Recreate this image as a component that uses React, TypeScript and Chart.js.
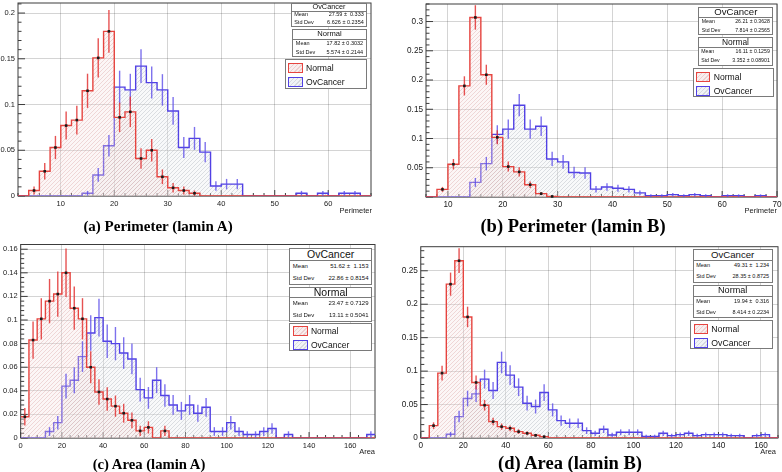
import React, { useEffect, useRef } from 'react';
import { Chart, registerables } from 'chart.js';

Chart.register(...registerables);

const SANS = '"Liberation Sans", Arial, Helvetica, sans-serif';
const SERIF = '"Liberation Serif", "Times New Roman", serif';
const RED = '#e6443f';
const BLUE = '#5141e4';
const RED_ERR = 'rgba(226,52,52,0.85)';
const BLUE_ERR = 'rgba(92,78,232,0.8)';

const SERIES_NAMES = ['Normal', 'OvCancer'];
const STAT_LABELS = ['Mean', 'Std Dev'];

// ---------- (a) Perimeter (lamin A) ----------
const A_BIN_START = 2;
const A_BIN_WIDTH = 2;
const A_X_RANGE = [2, 68];
const A_Y_MAX = 0.211;
const A_X_STEP = 10;
const A_Y_STEP = 0.05;
const A_NORMAL = [0, 0.006, 0.027, 0.053, 0.077, 0.083, 0.115, 0.151, 0.18, 0.086, 0.092, 0.041, 0.05, 0.021, 0.009, 0.006, 0.003, 0, 0, 0, 0, 0, 0, 0, 0, 0, 0, 0, 0, 0, 0, 0, 0];
const A_NORMAL_ERR = [0, 0.0043, 0.009, 0.0127, 0.0153, 0.0158, 0.0187, 0.0214, 0.0233, 0.0161, 0.0167, 0.0111, 0.0123, 0.008, 0.0052, 0.0043, 0.003, 0, 0, 0, 0, 0, 0, 0, 0, 0, 0, 0, 0, 0, 0, 0, 0];
const A_OVCANCER = [0, 0, 0, 0, 0, 0, 0.003, 0.023, 0.055, 0.119, 0.116, 0.142, 0.124, 0.116, 0.093, 0.053, 0.063, 0.048, 0.011, 0.013, 0.013, 0, 0, 0, 0, 0, 0.003, 0, 0.003, 0, 0.003, 0.003, 0];
const A_OVCANCER_ERR = [0, 0, 0, 0, 0, 0, 0.0026, 0.0075, 0.0118, 0.018, 0.0176, 0.0185, 0.0175, 0.0172, 0.0152, 0.0115, 0.0125, 0.011, 0.0052, 0.0057, 0.0057, 0, 0, 0, 0, 0, 0.0026, 0, 0.0026, 0, 0.0026, 0.0026, 0];
const A_STATS_OV = ['27.59 \u00b1  0.333', '6.626 \u00b1 0.2354'];
const A_STATS_NORMAL = ['17.82 \u00b1 0.3032', '5.574 \u00b1 0.2144'];

// ---------- (b) Perimeter (lamin B) ----------
const B_BIN_START = 6;
const B_BIN_WIDTH = 2;
const B_X_RANGE = [6, 70];
const B_Y_MAX = 0.33;
const B_X_STEP = 10;
const B_Y_STEP = 0.05;
const B_NORMAL = [0, 0.013, 0.056, 0.19, 0.307, 0.209, 0.102, 0.052, 0.043, 0.021, 0.0057, 0.001, 0, 0, 0, 0, 0, 0, 0, 0, 0, 0, 0, 0, 0, 0, 0, 0, 0, 0, 0, 0];
const B_NORMAL_ERR = [0, 0.0043, 0.0089, 0.0164, 0.0209, 0.0172, 0.012, 0.0086, 0.0078, 0.0055, 0.0028, 0.0012, 0, 0, 0, 0, 0, 0, 0, 0, 0, 0, 0, 0, 0, 0, 0, 0, 0, 0, 0, 0];
const B_OVCANCER = [0, 0, 0, 0, 0.025, 0.057, 0.107, 0.116, 0.157, 0.116, 0.121, 0.065, 0.06, 0.042, 0.041, 0.0134, 0.017, 0.015, 0.013, 0.007, 0.0023, 0.0023, 0.004, 0.0023, 0.004, 0.0023, 0, 0.0023, 0.0023, 0, 0.0023, 0];
const B_OVCANCER_ERR = [0, 0, 0, 0, 0.0076, 0.0115, 0.0157, 0.0164, 0.019, 0.0164, 0.0167, 0.0122, 0.0118, 0.0098, 0.0097, 0.0056, 0.0063, 0.0059, 0.0055, 0.004, 0.0023, 0.0023, 0.003, 0.0023, 0.003, 0.0023, 0, 0.0023, 0.0023, 0, 0.0023, 0];
const B_STATS_OV = ['26.21 \u00b1 0.3628', '7.814 \u00b1 0.2565'];
const B_STATS_NORMAL = ['16.11 \u00b1 0.1259', '3.352 \u00b1 0.08901'];

// ---------- (c) Area (lamin A) ----------
const C_BIN_START = 0;
const C_BIN_WIDTH = 4;
const C_X_RANGE = [0, 172];
const C_Y_MAX = 0.164;
const C_X_STEP = 20;
const C_Y_STEP = 0.02;
const C_NORMAL = [0.018, 0.083, 0.101, 0.116, 0.122, 0.14, 0.11, 0.101, 0.06, 0.039, 0.033, 0.027, 0.021, 0.015, 0.006, 0.009, 0, 0.006, 0, 0, 0, 0, 0, 0, 0, 0, 0, 0, 0, 0, 0, 0, 0, 0, 0, 0, 0, 0, 0, 0, 0, 0, 0];
const C_NORMAL_ERR = [0.0074, 0.0158, 0.0175, 0.0188, 0.0192, 0.0206, 0.0183, 0.0175, 0.0135, 0.0108, 0.01, 0.009, 0.008, 0.0067, 0.0043, 0.0052, 0, 0.0043, 0, 0, 0, 0, 0, 0, 0, 0, 0, 0, 0, 0, 0, 0, 0, 0, 0, 0, 0, 0, 0, 0, 0, 0, 0];
const C_OVCANCER = [0, 0, 0, 0.0055, 0.013, 0.044, 0.049, 0.069, 0.089, 0.102, 0.082, 0.08, 0.072, 0.067, 0.041, 0.034, 0.049, 0.036, 0.028, 0.023, 0.028, 0.021, 0.026, 0.0055, 0.0055, 0.013, 0.0055, 0.003, 0.003, 0.0055, 0.008, 0, 0.003, 0, 0, 0, 0, 0, 0, 0, 0, 0, 0.003];
const C_OVCANCER_ERR = [0, 0, 0, 0.0037, 0.0057, 0.0105, 0.011, 0.013, 0.015, 0.016, 0.0143, 0.0141, 0.0134, 0.013, 0.01, 0.0092, 0.011, 0.0095, 0.0084, 0.0076, 0.0084, 0.0072, 0.008, 0.0037, 0.0037, 0.0057, 0.0037, 0.0027, 0.0027, 0.0037, 0.0045, 0, 0.0027, 0, 0, 0, 0, 0, 0, 0, 0, 0, 0.0027];
const C_STATS_OV = ['51.62 \u00b1  1.153', '22.86 \u00b1 0.8154'];
const C_STATS_NORMAL = ['23.47 \u00b1 0.7129', '13.11 \u00b1 0.5041'];

// ---------- (d) Area (lamin B) ----------
const D_BIN_START = 0;
const D_BIN_WIDTH = 4;
const D_X_RANGE = [0, 168];
const D_Y_MAX = 0.286;
const D_X_STEP = 20;
const D_Y_STEP = 0.05;
const D_NORMAL = [0, 0.0185, 0.097, 0.23, 0.265, 0.181, 0.083, 0.049, 0.0245, 0.017, 0.0145, 0.0095, 0.007, 0.004, 0.002, 0, 0, 0, 0, 0, 0, 0, 0, 0, 0, 0, 0, 0, 0, 0, 0, 0, 0, 0, 0, 0, 0, 0, 0, 0, 0, 0];
const D_NORMAL_ERR = [0, 0.0049, 0.0112, 0.0173, 0.0185, 0.0153, 0.0104, 0.008, 0.0056, 0.0047, 0.0043, 0.0035, 0.003, 0.0023, 0.0016, 0, 0, 0, 0, 0, 0, 0, 0, 0, 0, 0, 0, 0, 0, 0, 0, 0, 0, 0, 0, 0, 0, 0, 0, 0, 0, 0];
const D_OVCANCER = [0, 0, 0, 0.0055, 0.032, 0.059, 0.066, 0.088, 0.071, 0.113, 0.094, 0.076, 0.052, 0.047, 0.068, 0.042, 0.026, 0.022, 0.022, 0.011, 0.007, 0.013, 0.0045, 0.0085, 0.0085, 0.0085, 0.0025, 0.0025, 0.007, 0.0035, 0.005, 0.007, 0.0035, 0.005, 0.005, 0.005, 0.0035, 0.0035, 0, 0.0035, 0.005, 0];
const D_OVCANCER_ERR = [0, 0, 0, 0.0036, 0.0086, 0.0117, 0.0123, 0.0142, 0.0128, 0.0161, 0.0147, 0.0132, 0.011, 0.0104, 0.0125, 0.0098, 0.0077, 0.0071, 0.0071, 0.005, 0.004, 0.0055, 0.0032, 0.0044, 0.0044, 0.0044, 0.0024, 0.0024, 0.004, 0.0028, 0.0034, 0.004, 0.0028, 0.0034, 0.0034, 0.0034, 0.0028, 0.0028, 0, 0.0028, 0.0034, 0];
const D_STATS_OV = ['49.31 \u00b1  1.234', '28.35 \u00b1 0.8725'];
const D_STATS_NORMAL = ['19.94 \u00b1  0.316', '8.414 \u00b1 0.2234'];

type Hist = { start: number; width: number; values: number[]; errors: number[] };
type Box = { x: number; y: number; w: number; h: number; hh: number; hf: number; rf: number };
type LegendSpec = { x: number; y: number; w: number; h: number; sx: number; sw: number; sh: number; c1: number; c2: number; tx: number; f: number };

type PanelSpec = {
  key: string;
  canvas: { left: number; top: number; w: number; h: number };
  area: { l: number; r: number; t: number; b: number };
  xRange: number[];
  yMax: number;
  xStep: number;
  yStep: number;
  xMinor: number;
  yMinor: number;
  hideZero: boolean;
  tickFont: number;
  normal: Hist;
  ov: Hist;
  xTitle: string;
  xTitleRight: number;
  xTitleY: number;
  caption: string;
  capX: number;
  capY: number;
  capSize: number;
  statsOv: string[];
  statsNormal: string[];
  boxOv: Box;
  boxNormal: Box;
  legend: LegendSpec;
};

const PANELS: PanelSpec[] = [
  {
    key: 'a',
    canvas: { left: 0, top: 0, w: 391, h: 214 },
    area: { l: 18, r: 371, t: 3, b: 196 },
    xRange: A_X_RANGE, yMax: A_Y_MAX, xStep: A_X_STEP, yStep: A_Y_STEP, xMinor: 2, yMinor: 0.01,
    hideZero: false, tickFont: 7.5,
    normal: { start: A_BIN_START, width: A_BIN_WIDTH, values: A_NORMAL, errors: A_NORMAL_ERR },
    ov: { start: A_BIN_START, width: A_BIN_WIDTH, values: A_OVCANCER, errors: A_OVCANCER_ERR },
    xTitle: 'Perimeter', xTitleRight: 372, xTitleY: 211,
    caption: '(a) Perimeter (lamin A)', capX: 158, capY: 226, capSize: 15,
    statsOv: A_STATS_OV, statsNormal: A_STATS_NORMAL,
    boxOv: { x: 290.7, y: 3.3, w: 76.6, h: 23.4, hh: 7.7, hf: 7.3, rf: 5.5 },
    boxNormal: { x: 292.3, y: 29.3, w: 74.4, h: 27.4, hh: 9.7, hf: 7.6, rf: 5.5 },
    legend: { x: 285, y: 59.3, w: 81.7, h: 30, sx: 2.3, sw: 14.4, sh: 10, c1: 7.7, c2: 22.2, tx: 20, f: 8.6 },
  },
  {
    key: 'b',
    canvas: { left: 391, top: 0, w: 391, h: 214 },
    area: { l: 426, r: 777, t: 4, b: 197 },
    xRange: B_X_RANGE, yMax: B_Y_MAX, xStep: B_X_STEP, yStep: B_Y_STEP, xMinor: 2, yMinor: 0.01,
    hideZero: true, tickFont: 8.2,
    normal: { start: B_BIN_START, width: B_BIN_WIDTH, values: B_NORMAL, errors: B_NORMAL_ERR },
    ov: { start: B_BIN_START, width: B_BIN_WIDTH, values: B_OVCANCER, errors: B_OVCANCER_ERR },
    xTitle: 'Perimeter', xTitleRight: 777, xTitleY: 211,
    caption: '(b) Perimeter (lamin B)', capX: 573, capY: 226.5, capSize: 18.5,
    statsOv: B_STATS_OV, statsNormal: B_STATS_NORMAL,
    boxOv: { x: 698.3, y: 7.3, w: 75, h: 27.7, hh: 9.4, hf: 9.6, rf: 5.2 },
    boxNormal: { x: 697.7, y: 36.7, w: 75.6, h: 29, hh: 10.6, hf: 8.4, rf: 5.2 },
    legend: { x: 692.7, y: 68.3, w: 81, h: 29, sx: 2.3, sw: 14.3, sh: 10.3, c1: 7.7, c2: 21.7, tx: 20, f: 8.6 },
  },
  {
    key: 'c',
    canvas: { left: 0, top: 236, w: 391, h: 214 },
    area: { l: 20.7, r: 375, t: 244.5, b: 438 },
    xRange: C_X_RANGE, yMax: C_Y_MAX, xStep: C_X_STEP, yStep: C_Y_STEP, xMinor: 4, yMinor: 0.004,
    hideZero: false, tickFont: 7.5,
    normal: { start: C_BIN_START, width: C_BIN_WIDTH, values: C_NORMAL, errors: C_NORMAL_ERR },
    ov: { start: C_BIN_START, width: C_BIN_WIDTH, values: C_OVCANCER, errors: C_OVCANCER_ERR },
    xTitle: 'Area', xTitleRight: 375, xTitleY: 452,
    caption: '(c) Area (lamin A)', capX: 149, capY: 465, capSize: 14.7,
    statsOv: C_STATS_OV, statsNormal: C_STATS_NORMAL,
    boxOv: { x: 289.3, y: 248.3, w: 82.7, h: 36.7, hh: 11.7, hf: 10.5, rf: 6 },
    boxNormal: { x: 289.3, y: 286.7, w: 82.7, h: 35, hh: 10, hf: 10.5, rf: 6 },
    legend: { x: 289.3, y: 322.5, w: 82.7, h: 28, sx: 2.4, sw: 15, sh: 10, c1: 7.5, c2: 21.5, tx: 20.7, f: 8.5 },
  },
  {
    key: 'd',
    canvas: { left: 391, top: 236, w: 391, h: 214 },
    area: { l: 420.8, r: 778, t: 246.7, b: 438 },
    xRange: D_X_RANGE, yMax: D_Y_MAX, xStep: D_X_STEP, yStep: D_Y_STEP, xMinor: 4, yMinor: 0.01,
    hideZero: false, tickFont: 8.2,
    normal: { start: D_BIN_START, width: D_BIN_WIDTH, values: D_NORMAL, errors: D_NORMAL_ERR },
    ov: { start: D_BIN_START, width: D_BIN_WIDTH, values: D_OVCANCER, errors: D_OVCANCER_ERR },
    xTitle: 'Area', xTitleRight: 776, xTitleY: 452,
    caption: '(d) Area (lamin B)', capX: 570, capY: 463.5, capSize: 18.5,
    statsOv: D_STATS_OV, statsNormal: D_STATS_NORMAL,
    boxOv: { x: 692.7, y: 249.3, w: 80, h: 33.4, hh: 11, hf: 9.6, rf: 5.5 },
    boxNormal: { x: 692.7, y: 285.3, w: 80, h: 33, hh: 10.7, hf: 9.1, rf: 5.5 },
    legend: { x: 690.3, y: 320.3, w: 82.4, h: 29, sx: 3, sw: 13.7, sh: 10, c1: 7.4, c2: 21.7, tx: 20, f: 8.7 },
  },
];

function histPoints(h: Hist) {
  const pts = h.values.map((v, i) => ({ x: h.start + i * h.width, y: v }));
  pts.push({ x: h.start + h.values.length * h.width, y: h.values[h.values.length - 1] });
  return pts;
}

function makePattern(ctx: CanvasRenderingContext2D, line: string, bg: string) {
  const tile = document.createElement('canvas');
  tile.width = 4;
  tile.height = 4;
  const g = tile.getContext('2d')!;
  g.fillStyle = bg;
  g.fillRect(0, 0, 4, 4);
  g.fillStyle = line;
  for (let i = 0; i < 4; i++) g.fillRect(i, 3 - i, 1, 1);
  return ctx.createPattern(tile, 'repeat')!;
}

const framePlugin = {
  id: 'rootFrame',
  beforeDatasetsDraw(chart: any) {
    const { ctx, chartArea: a, scales } = chart;
    const x = scales.x;
    const y = scales.y;
    const o = chart.options.plugins.rootFrame;
    ctx.save();
    ctx.strokeStyle = '#3c3c3c';
    ctx.lineWidth = 1;
    ctx.strokeRect(a.left, a.top, a.right - a.left, a.bottom - a.top);
    ctx.beginPath();
    for (let k = 0; k * o.yMinor <= y.max + 1e-9; k++) {
      const py = y.getPixelForValue(k * o.yMinor);
      const len = k % 5 === 0 ? 7 : 3.5;
      ctx.moveTo(a.left, py);
      ctx.lineTo(a.left + len, py);
    }
    const k0 = Math.ceil(x.min / o.xMinor);
    for (let k = k0; k * o.xMinor <= x.max + 1e-9; k++) {
      const px = x.getPixelForValue(k * o.xMinor);
      const len = (k * o.xMinor) % (o.xMinor * 5) === 0 ? 6 : 3;
      ctx.moveTo(px, a.bottom);
      ctx.lineTo(px, a.bottom - len);
    }
    ctx.stroke();
    ctx.restore();
  },
};

const errorBarPlugin = {
  id: 'errBars',
  afterDatasetsDraw(chart: any) {
    const { ctx, scales } = chart;
    const x = scales.x;
    const y = scales.y;
    const list = chart.data.datasets as any[];
    [1, 0].forEach((idx) => {
      const ds = list[idx];
      const h: Hist = ds.hist;
      ctx.save();
      ctx.strokeStyle = ds.errColor;
      ctx.lineWidth = 1.4;
      h.values.forEach((v, i) => {
        if (v <= 0) return;
        const cx = x.getPixelForValue(h.start + (i + 0.5) * h.width);
        const e = h.errors[i];
        ctx.beginPath();
        ctx.moveTo(cx, y.getPixelForValue(v - e));
        ctx.lineTo(cx, y.getPixelForValue(v + e));
        ctx.stroke();
        if (ds.marker) {
          ctx.fillStyle = '#1a1a1a';
          ctx.fillRect(cx - 1.3, y.getPixelForValue(v) - 1.3, 2.6, 2.6);
        }
      });
      ctx.restore();
    });
  },
};

function fmt(v: number) {
  return String(+Number(v).toFixed(4));
}

function HistPanel({ p }: { p: PanelSpec }) {
  const ref = useRef<HTMLCanvasElement>(null);
  useEffect(() => {
    const canvas = ref.current!;
    const ctx = canvas.getContext('2d')!;
    const redPat = makePattern(ctx, 'rgba(210,140,140,0.3)', 'rgba(244,226,226,0.3)');
    const bluePat = makePattern(ctx, 'rgba(150,155,168,0.3)', 'rgba(232,235,240,0.32)');
    const c = p.canvas;
    const a = p.area;
    const yWidth = a.l - c.left;
    const xHeight = c.top + c.h - a.b;
    const gridColor = 'rgba(0,0,0,0.17)';
    const chart = new Chart(canvas, {
      type: 'line',
      data: {
        datasets: [
          {
            label: SERIES_NAMES[0],
            data: histPoints(p.normal),
            stepped: true,
            borderColor: RED,
            borderWidth: 1.4,
            backgroundColor: redPat,
            fill: 'origin',
            pointRadius: 0,
            hist: p.normal,
            errColor: RED_ERR,
            marker: true,
          } as any,
          {
            label: SERIES_NAMES[1],
            data: histPoints(p.ov),
            stepped: true,
            borderColor: BLUE,
            borderWidth: 1.4,
            backgroundColor: bluePat,
            fill: 'origin',
            pointRadius: 0,
            hist: p.ov,
            errColor: BLUE_ERR,
            marker: false,
          } as any,
        ],
      },
      options: {
        animation: false,
        responsive: false,
        maintainAspectRatio: false,
        events: [],
        layout: { padding: { left: 0, top: a.t - c.top, right: c.left + c.w - a.r, bottom: 0 } },
        plugins: {
          legend: { display: false },
          tooltip: { enabled: false },
          rootFrame: { xMinor: p.xMinor, yMinor: p.yMinor },
        } as any,
        scales: {
          x: {
            type: 'linear',
            min: p.xRange[0],
            max: p.xRange[1],
            grid: { color: gridColor, drawTicks: false, lineWidth: 1 },
            border: { display: false },
            ticks: {
              stepSize: p.xStep,
              includeBounds: false,
              padding: 3,
              color: '#1a1a1a',
              font: { family: SANS, size: p.tickFont },
              maxRotation: 0,
              autoSkip: false,
              callback: (v: any) => fmt(v),
            },
            afterFit: (s: any) => {
              s.height = xHeight;
              s.paddingLeft = 0;
              s.paddingRight = 0;
            },
          },
          y: {
            type: 'linear',
            min: 0,
            max: p.yMax,
            grid: { color: gridColor, drawTicks: false, lineWidth: 1 },
            border: { display: false },
            ticks: {
              stepSize: p.yStep,
              includeBounds: false,
              padding: 3,
              color: '#1a1a1a',
              font: { family: SANS, size: p.tickFont },
              callback: (v: any) => (p.hideZero && Number(v) === 0 ? '' : fmt(v)),
            },
            afterFit: (s: any) => {
              s.width = yWidth;
              s.paddingTop = 0;
              s.paddingBottom = 0;
            },
          },
        },
      },
      plugins: [framePlugin, errorBarPlugin],
    });
    return () => chart.destroy();
  }, [p]);

  const c = p.canvas;
  return (
    <>
      <canvas
        ref={ref}
        width={c.w}
        height={c.h}
        style={{ position: 'absolute', left: c.left, top: c.top, width: c.w, height: c.h }}
      />
      <div
        style={{
          position: 'absolute', left: 0, width: p.xTitleRight, top: p.xTitleY - 5, height: 10,
          lineHeight: '10px', textAlign: 'right', fontSize: 7.5, fontFamily: SANS, color: '#1a1a1a',
        }}
      >
        {p.xTitle}
      </div>
      <div
        style={{
          position: 'absolute', left: p.capX - 160, width: 320, top: p.capY - p.capSize * 0.6,
          height: p.capSize * 1.2, lineHeight: p.capSize * 1.2 + 'px', textAlign: 'center',
          fontFamily: SERIF, fontWeight: 'bold', fontSize: p.capSize, color: '#000', whiteSpace: 'nowrap',
        }}
      >
        {p.caption}
      </div>
      <StatBox b={p.boxOv} name={SERIES_NAMES[1]} values={p.statsOv} />
      <StatBox b={p.boxNormal} name={SERIES_NAMES[0]} values={p.statsNormal} />
      <LegendBox l={p.legend} />
    </>
  );
}

function StatBox({ b, name, values }: { b: Box; name: string; values: string[] }) {
  const rowH = (b.h - b.hh) / 2;
  return (
    <div
      style={{
        position: 'absolute', left: b.x, top: b.y, width: b.w, height: b.h, boxSizing: 'border-box',
        border: '1px solid #7a7a7a', background: '#fff', fontFamily: SANS, color: '#111',
      }}
    >
      <div
        style={{
          position: 'absolute', left: 0, right: 0, top: 0, height: b.hh - 1, lineHeight: b.hh - 1 + 'px',
          textAlign: 'center', fontSize: b.hf, borderBottom: '1px solid #7a7a7a',
        }}
      >
        {name}
      </div>
      {values.map((v, i) => (
        <div
          key={i}
          style={{
            position: 'absolute', left: 2.5, right: 2.5, top: b.hh - 1 + rowH * i, height: rowH,
            lineHeight: rowH + 'px', fontSize: b.rf, display: 'flex', justifyContent: 'space-between',
            whiteSpace: 'pre',
          }}
        >
          <span>{STAT_LABELS[i]}</span>
          <span>{v}</span>
        </div>
      ))}
    </div>
  );
}

const SWATCH_RED = 'repeating-linear-gradient(135deg, rgba(214,150,150,0.45) 0px, rgba(214,150,150,0.45) 1px, #f8eeee 1px, #f8eeee 3px)';
const SWATCH_BLUE = 'repeating-linear-gradient(135deg, rgba(155,160,175,0.4) 0px, rgba(155,160,175,0.4) 1px, #f1f3f6 1px, #f1f3f6 3px)';

function LegendBox({ l }: { l: LegendSpec }) {
  const entries = [
    { label: SERIES_NAMES[0], color: RED, bg: SWATCH_RED, cy: l.c1 },
    { label: SERIES_NAMES[1], color: BLUE, bg: SWATCH_BLUE, cy: l.c2 },
  ];
  return (
    <div
      style={{
        position: 'absolute', left: l.x, top: l.y, width: l.w, height: l.h, boxSizing: 'border-box',
        border: '1px solid #7a7a7a', background: '#fff', fontFamily: SANS, color: '#111',
      }}
    >
      {entries.map((e) => (
        <React.Fragment key={e.label}>
          <div
            style={{
              position: 'absolute', left: l.sx, top: e.cy - l.sh / 2, width: l.sw, height: l.sh,
              boxSizing: 'border-box', border: `1.3px solid ${e.color}`, background: e.bg,
            }}
          />
          <div
            style={{
              position: 'absolute', left: l.tx, top: e.cy - 6, height: 12, lineHeight: '12px',
              fontSize: l.f, whiteSpace: 'nowrap',
            }}
          >
            {e.label}
          </div>
        </React.Fragment>
      ))}
    </div>
  );
}

export default function App() {
  useEffect(() => {
    document.body.style.margin = '0';
    document.body.style.background = '#fff';
  }, []);
  return (
    <div
      style={{
        position: 'absolute', left: 0, top: 0, width: 782, height: 472, overflow: 'hidden',
        background: '#fff',
      }}
    >
      {PANELS.map((p) => (
        <HistPanel key={p.key} p={p} />
      ))}
    </div>
  );
}
